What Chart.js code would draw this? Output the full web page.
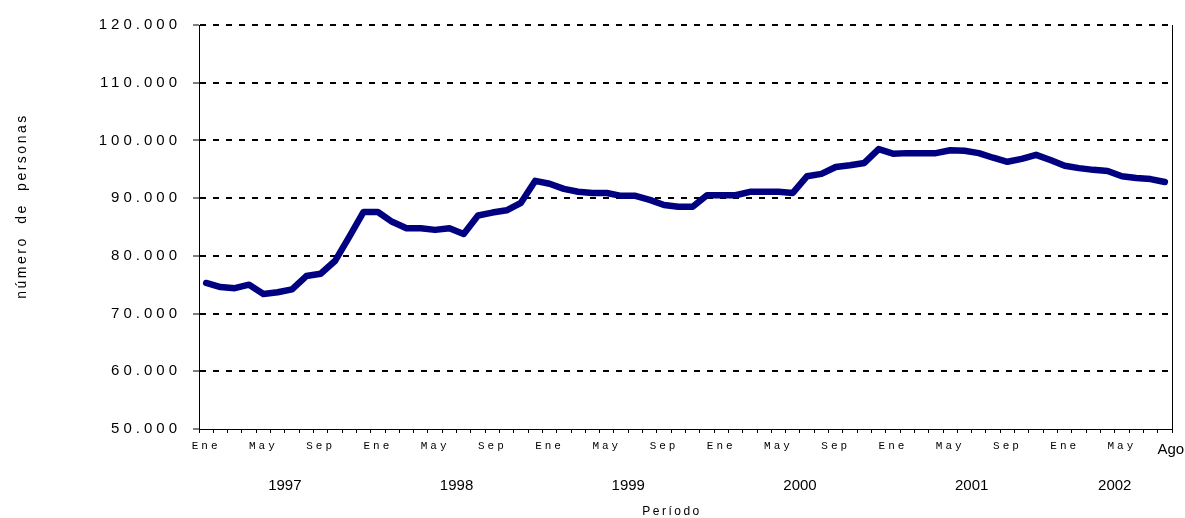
<!DOCTYPE html>
<html>
<head>
<meta charset="utf-8">
<script src="https://cdn.jsdelivr.net/npm/chart.js@4/dist/chart.umd.min.js"></script>
<style>
    body { margin: 0; background: #fff; }
    canvas { display: block; }
</style>
</head>
<body>
<canvas id="personasChart" width="1185" height="518"></canvas>
<script>
const years = [1997, 1998, 1999, 2000, 2001, 2002];
const months = ['Ene', 'Feb', 'Mar', 'Abr', 'May', 'Jun', 'Jul', 'Ago', 'Sep', 'Oct', 'Nov', 'Dic'];

// número de personas, Ene 1997 - Ago 2002
const personas = [
    75300, 74600, 74400, 75000, 73400, 73700, 74200, 76500, 76900, 79100, 83300, 87600,
    87600, 85900, 84800, 84800, 84500, 84800, 83800, 87000, 87500, 87900, 89200, 93000,
    92500, 91600, 91100, 90900, 90900, 90400, 90400, 89700, 88800, 88500, 88500, 90500,
    90500, 90500, 91100, 91100, 91100, 90900, 93800, 94200, 95400, 95700, 96100, 98500,
    97700, 97800, 97800, 97800, 98300, 98200, 97800, 97000, 96300, 96800, 97500, 96600,
    95600, 95200, 94900, 94700, 93800, 93500, 93300, 92800
];

const yTicks = [50000, 60000, 70000, 80000, 90000, 100000, 110000, 120000];

const categories = years.flatMap(y => months.map(m => m + ' ' + y)).slice(0, personas.length);

const sans = "'Liberation Sans', Arial, sans-serif";

function formatMiles(v) {
    return String(v).replace(/\B(?=(\d{3})+(?!\d))/g, '.');
}

// letter spacing for the tick labels, plus the free texts of the original chart
const labelSpacing = { x: '3px', y: '4px' };

const textPlugin = {
    id: 'textPlugin',
    beforeDraw(chart) {
        ['x', 'y'].forEach(id => {
            const scale = chart.scales[id];
            if (scale._spaced) return;
            const orig = scale.drawLabels.bind(scale);
            scale.drawLabels = function (area) {
                const ctx = this.ctx;
                ctx.save();
                ctx.letterSpacing = labelSpacing[id];
                orig(area);
                ctx.restore();
            };
            scale._spaced = true;
        });
    },
    afterDraw(chart) {
        const ctx = chart.ctx;
        const area = chart.chartArea;
        const x = chart.scales.x;
        const n = personas.length;

        ctx.save();
        // right frame line
        ctx.strokeStyle = '#000';
        ctx.lineWidth = 1;
        ctx.beginPath();
        ctx.moveTo(Math.round(area.right) + 0.5, area.top);
        ctx.lineTo(Math.round(area.right) + 0.5, area.bottom);
        ctx.stroke();

        ctx.fillStyle = '#000';
        ctx.textAlign = 'center';
        ctx.textBaseline = 'alphabetic';

        // last month label
        ctx.font = '15px ' + sans;
        ctx.fillText(months[(n - 1) % 12], x.getPixelForValue(n - 1) + 6, 454);

        // years under the months
        years.forEach((y, k) => {
            const first = k * 12;
            const last = Math.min(first + 11, n - 1);
            const cx = (x.getPixelForValue(first) + x.getPixelForValue(last)) / 2;
            ctx.fillText(String(y), cx, 490);
        });

        // x title
        ctx.font = '12px ' + sans;
        ctx.letterSpacing = '2.5px';
        ctx.fillText('Período', 672, 515);

        // y title
        ctx.font = '14px ' + sans;
        ctx.letterSpacing = '2.5px';
        ctx.wordSpacing = '6px';
        ctx.translate(26, 206);
        ctx.rotate(-Math.PI / 2);
        ctx.fillText('número de personas', 0, 0);
        ctx.restore();
    }
};

const config = {
    type: 'line',
    data: {
        labels: categories,
        datasets: [{
            label: 'número de personas',
            data: personas,
            borderColor: '#000080',
            borderWidth: 6.5,
            borderCapStyle: 'round',
            borderJoinStyle: 'round',
            pointRadius: 0,
            tension: 0,
            fill: false
        }]
    },
    options: {
        responsive: false,
        animation: false,
        layout: {
            padding: { top: 25, right: 13, bottom: 0, left: 0 }
        },
        plugins: {
            legend: { display: false },
            tooltip: { enabled: false }
        },
        scales: {
            x: {
                offset: true,
                grid: {
                    offset: true,
                    drawOnChartArea: false,
                    drawTicks: true,
                    tickLength: 4,
                    tickColor: '#000',
                    tickWidth: 1
                },
                border: { display: true, color: '#000', width: 1 },
                ticks: {
                    autoSkip: false,
                    minRotation: 0,
                    maxRotation: 0,
                    padding: 6,
                    color: '#000',
                    font: { family: "'Liberation Mono', 'Courier New', monospace", size: 11 },
                    callback: (v, i) => (i % 4 === 0 ? months[i % 12] : '')
                },
                afterFit: scale => { scale.height = 89; }
            },
            y: {
                min: yTicks[0],
                max: yTicks[yTicks.length - 1],
                afterBuildTicks: scale => {
                    scale.ticks = yTicks.map(v => ({ value: v }));
                },
                grid: {
                    color: c => (c.tick && c.tick.value === yTicks[0] ? 'rgba(0,0,0,0)' : '#000'),
                    lineWidth: 2,
                    drawTicks: true,
                    tickLength: 6,
                    tickColor: '#000',
                    tickWidth: 1,
                    tickBorderDash: []
                },
                border: { display: true, color: '#000', width: 1, dash: [6, 7] },
                ticks: {
                    padding: 12,
                    color: '#000',
                    font: { family: sans, size: 15 },
                    callback: v => formatMiles(v)
                },
                afterFit: scale => { scale.width = 199; }
            }
        }
    },
    plugins: [textPlugin]
};

const ctx = document.getElementById('personasChart').getContext('2d');
const chart = new Chart(ctx, config);
</script>
</body>
</html>
